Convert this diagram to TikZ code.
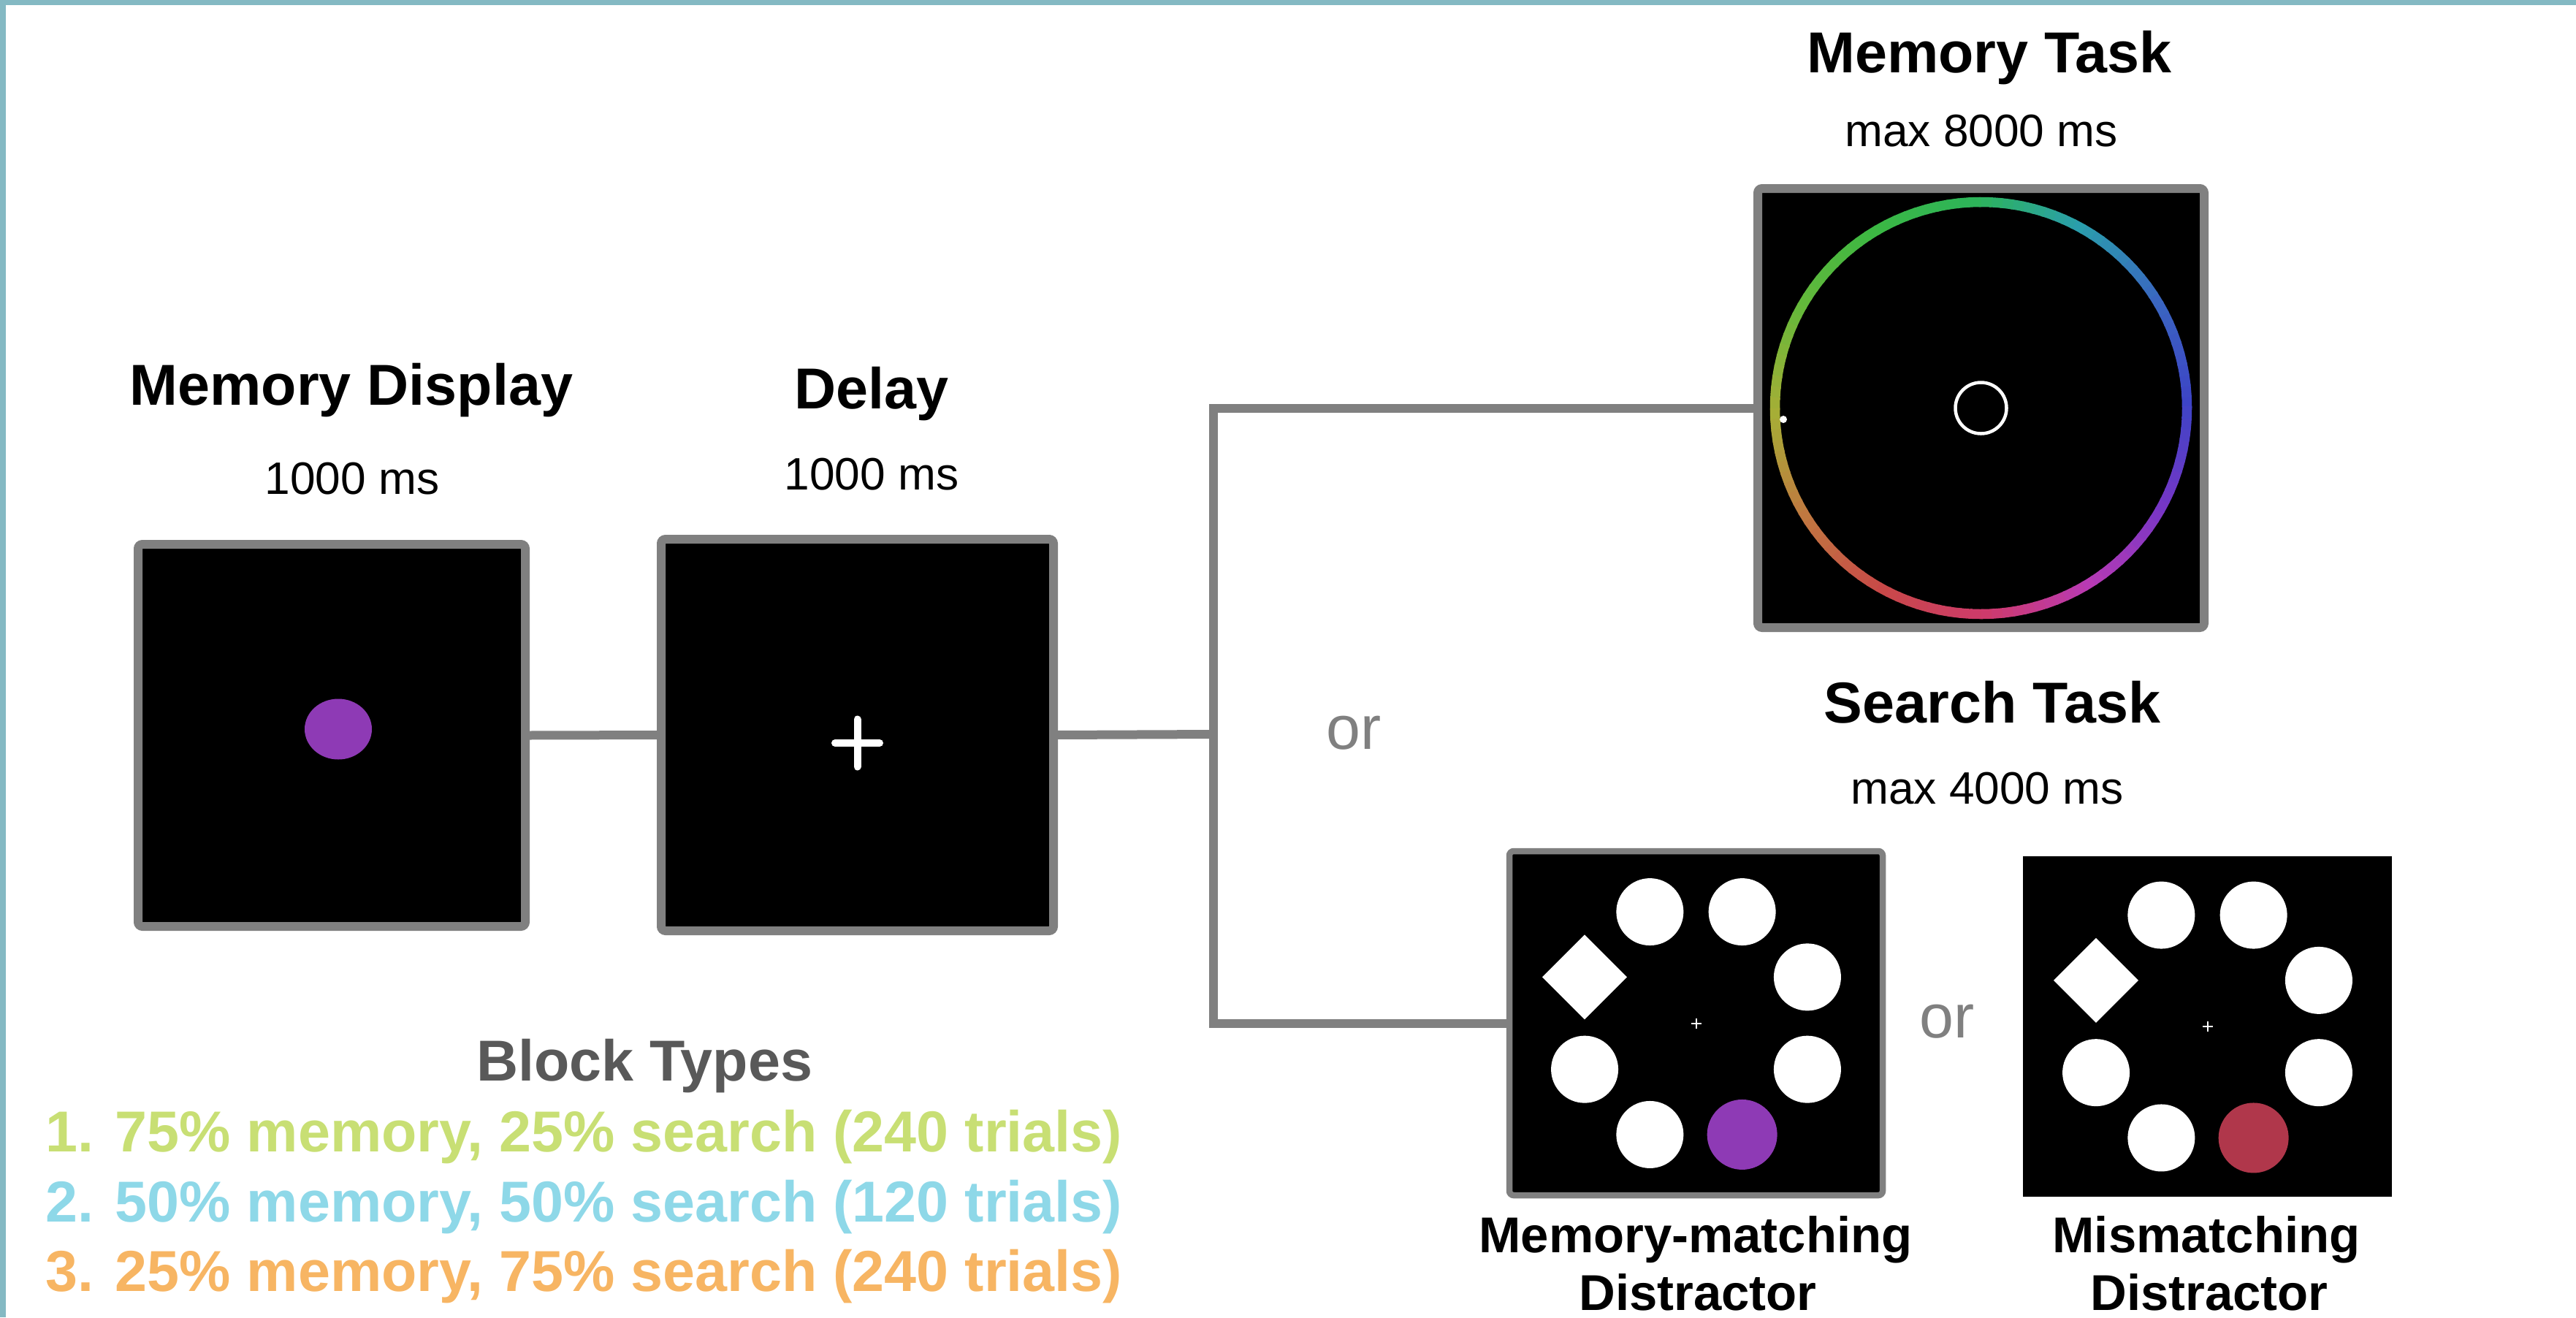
\documentclass[tikz,border=0pt]{standalone}
\usepackage{fontspec}
\setmainfont{Liberation Sans}
\usetikzlibrary{calc}

\definecolor{framecol}{HTML}{84B9C3}
\definecolor{linegray}{HTML}{808080}
\definecolor{headgray}{HTML}{595959}
\definecolor{blockA}{HTML}{C8DF74}
\definecolor{blockB}{HTML}{8ED8E8}
\definecolor{blockC}{HTML}{F7B563}
\definecolor{memviolet}{HTML}{8E3AB5}
\definecolor{lurered}{HTML}{B0374B}
% colour wheel, every 30 degrees
\definecolor{w0}{HTML}{3D44C6}
\definecolor{w1}{HTML}{3A66C0}
\definecolor{w2}{HTML}{2A9EAC}
\definecolor{w3}{HTML}{2DB45A}
\definecolor{w4}{HTML}{3CB843}
\definecolor{w5}{HTML}{66B83A}
\definecolor{w6}{HTML}{A6AE36}
\definecolor{w7}{HTML}{C07840}
\definecolor{w8}{HTML}{C84848}
\definecolor{w9}{HTML}{CE3A6C}
\definecolor{w10}{HTML}{B83AB4}
\definecolor{w11}{HTML}{7636C6}

\tikzset{
  screen/.style={draw=linegray, fill=black, line width=1.2mm, rounded corners=0.6mm,
    inner sep=0pt, outer sep=0pt},
  wire/.style={draw=linegray, line width=1.2mm},
  title/.style={font=\bfseries\fontsize{22.5}{27}\selectfont, anchor=base},
  timing/.style={font=\fontsize{17.7}{21}\selectfont, anchor=base},
  lure/.style={font=\bfseries\fontsize{19.6}{23}\selectfont, anchor=base},
  ortext/.style={font=\fontsize{24}{28}\selectfont, text=linegray, anchor=base},
  blockline/.style={font=\bfseries\fontsize{22.5}{27}\selectfont, anchor=base west}
}

% search display: #1 centre, #2 colour of the distractor
\newcommand{\searchring}[2]{%
  \foreach \ang in {112.5,67.5,22.5,-22.5,-112.5,-157.5}
    \fill[white] ($(#1)+(\ang:1.65)$) circle[radius=0.46];
  \fill[#2] ($(#1)+(-67.5:1.65)$) circle[radius=0.48];
  \fill[white] ($(#1)+(157.5:1.65)$) ++(0.58,0) -- ++(-0.58,0.58) -- ++(-0.58,-0.58) -- ++(0.58,-0.58) -- cycle;
  \draw[white, line width=0.2mm] ($(#1)+(-0.07,0)$) -- ++(0.14,0) ($(#1)+(0,-0.07)$) -- ++(0,0.14);
}

\begin{document}
\begin{tikzpicture}
  \useasboundingbox (0,0) rectangle (35.26,-18.03);
  \fill[framecol] (0,0) rectangle (35.26,-0.07);
  \fill[framecol] (0,0) rectangle (0.08,-18.03);

  % screens
  \node[screen, minimum width=5.30cm, minimum height=5.23cm] (memdisp) at (4.54,-10.065) {};
  \node[screen, minimum width=5.37cm, minimum height=5.36cm] (delay) at (11.735,-10.06) {};
  \node[screen, minimum width=6.11cm, minimum height=6.01cm] (memtask) at (27.115,-5.585) {};
  \node[screen, line width=0.85mm, minimum width=5.11cm, minimum height=4.71cm] (match) at (23.215,-14.005) {};
  \node[fill=black, inner sep=0pt, minimum width=5.05cm, minimum height=4.66cm] (mismatch) at (30.215,-14.05) {};

  % connectors
  \coordinate (junc) at (16.61,-10.05);
  \draw[wire] (memdisp.east) -- (delay.west);
  \draw[wire] (delay.east) -- (junc);
  \draw[wire] (memtask.west) -| (junc) |- (match.west);

  % memory item and fixation
  \fill[memviolet] ([shift={(0.09,0.085)}]memdisp.center) ellipse[x radius=0.46, y radius=0.415];
  \draw[white, line width=1mm, line cap=round] ([shift={(-0.305,-0.11)}]delay.center) -- ++(0.61,0)
    ([shift={(0,-0.435)}]delay.center) -- ++(0,0.65);

  % colour wheel
  \foreach \a/\ca/\cb in {0/w0/w1,30/w1/w2,60/w2/w3,90/w3/w4,120/w4/w5,150/w5/w6,
                          180/w6/w7,210/w7/w8,240/w8/w9,270/w9/w10,300/w10/w11,330/w11/w0}{
    \foreach \k in {0,...,9}{
      \pgfmathtruncatemacro\pct{100-10*\k}
      \draw[draw=\ca!\pct!\cb, line width=1.35mm]
        ([shift={(\a+3*\k:2.82)}]memtask.center) arc[start angle=\a+3*\k, end angle=\a+3*\k+3.6, radius=2.82];
    }
  }
  \draw[white, line width=0.45mm] (memtask.center) circle[radius=0.35];
  \fill[white] ([shift={(-2.705,-0.155)}]memtask.center) circle[radius=0.05];

  % search displays
  \searchring{match}{memviolet}
  \searchring{mismatch}{lurered}

  % labels
  \node[title] (mdlabel) at (4.81,-5.54) {Memory Display};
  \node[timing] (mdtime) at (4.82,-6.76) {1000 ms};
  \node[title] (delaylabel) at (11.93,-5.59) {Delay};
  \node[timing] (delaytime) at (11.93,-6.70) {1000 ms};
  \node[title] (mtlabel) at (27.23,-0.99) {Memory Task};
  \node[timing] (mttime) at (27.12,-2.00) {max 8000 ms};
  \node[title] (stlabel) at (27.27,-9.89) {Search Task};
  \node[timing] (sttime) at (27.20,-11.00) {max 4000 ms};
  \node[lure] (matchlabel) at (23.21,-17.14) {Memory-matching};
  \node[lure] (matchlabelb) at (23.24,-17.93) {Distractor};
  \node[lure] (mismatchlabel) at (30.20,-17.14) {Mismatching};
  \node[lure] (mismatchlabelb) at (30.24,-17.93) {Distractor};
  \node[ortext] (or1) at (18.53,-10.25) {or};
  \node[ortext] (or2) at (26.65,-14.20) {or};

  % block types
  \node[title, text=headgray] (blocks) at (8.82,-14.79) {Block Types};
  \node[blockline, text=blockA] (blockone) at (0.50,-15.76) {1. 75\% memory, 25\% search (240 trials)};
  \node[blockline, text=blockB] (blocktwo) at (0.50,-16.72) {2. 50\% memory, 50\% search (120 trials)};
  \node[blockline, text=blockC] (blockthree) at (0.50,-17.67) {3. 25\% memory, 75\% search (240 trials)};
\end{tikzpicture}
\end{document}
